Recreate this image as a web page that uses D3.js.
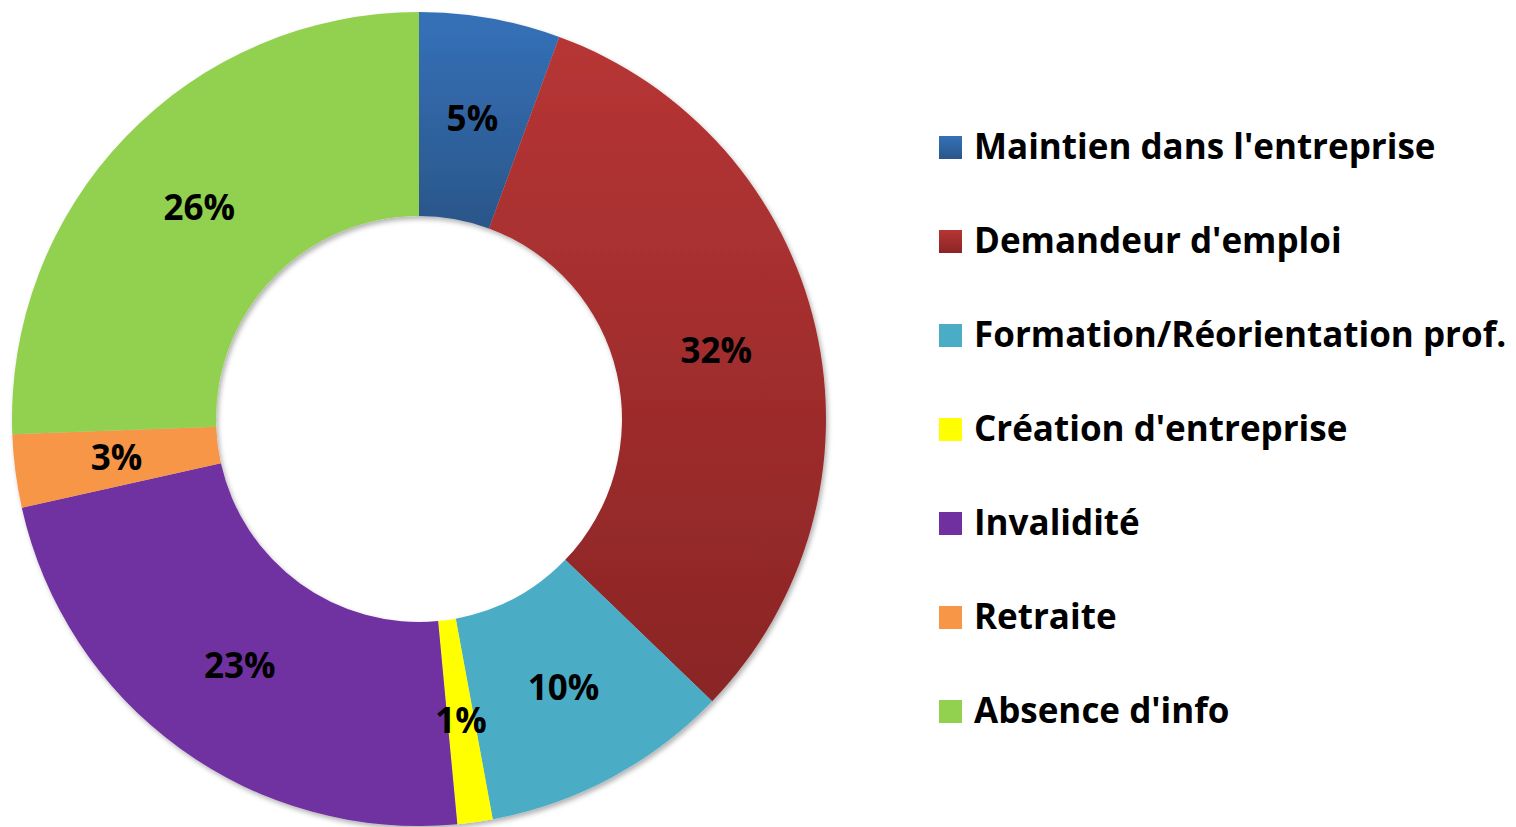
<!DOCTYPE html>
<html>
<head>
<meta charset="utf-8">
<script src="https://cdn.jsdelivr.net/npm/d3@7"></script>
<style>
  body { margin: 0; background: #fff; }
  text { font-family: "Open Sans", Lato, sans-serif; font-weight: 700; font-variant-ligatures: none; }
</style>
</head>
<body>
<div id="chart"></div>
<script>
// categories, values, labels as printed
var categories = ["Maintien dans l'entreprise", "Demandeur d'emploi", "Formation/Réorientation prof.",
    "Création d'entreprise", "Invalidité", "Retraite", "Absence d'info"];
var values = [5.6, 31.6, 9.9, 1.4, 23.0, 2.9, 25.6];
var labels = ["5%", "32%", "10%", "1%", "23%", "3%", "26%"];
var colorsTop = ["#3571B9", "#B73535", "#4BACC6", "#FFFF00", "#7030A0", "#F79646", "#92D050"];
var colorsBottom = ["#2A5689", "#8A2525", "#4BACC6", "#FFFF00", "#7030A0", "#F79646", "#92D050"];

var width = 1516, height = 827;
var cx = 419, cy = 419, outerR = 407, innerR = 203;

var svg = d3.select("#chart").append("svg")
    .attr("width", width)
    .attr("height", height);

var defs = svg.append("defs");
categories.forEach(function(c, i){
    var g = defs.append("linearGradient")
        .attr("id", "grad" + i)
        .attr("x1", 0).attr("y1", 0).attr("x2", 0).attr("y2", 1);
    g.append("stop").attr("offset", "0%").attr("stop-color", colorsTop[i]);
    g.append("stop").attr("offset", "100%").attr("stop-color", colorsBottom[i]);
});
defs.append("filter").attr("id", "shadow")
    .attr("x", "-10%").attr("y", "-10%").attr("width", "120%").attr("height", "120%")
    .append("feDropShadow")
    .attr("dx", 2).attr("dy", 3).attr("stdDeviation", 2.5)
    .attr("flood-color", "#000").attr("flood-opacity", 0.3);

var data = categories.map(function(c, i){
    return {name: c, value: values[i], label: labels[i], idx: i};
});

var pie = d3.pie().sort(null).value(function(d){ return d.value; });
var arc = d3.arc().innerRadius(innerR).outerRadius(outerR);

var chart = svg.append("g").attr("transform", "translate(" + cx + "," + cy + ")");

chart.append("g").attr("filter", "url(#shadow)")
    .selectAll("path")
    .data(pie(data))
    .enter().append("path")
    .attr("d", arc)
    .attr("fill", function(d){ return "url(#grad" + d.data.idx + ")"; });

chart.selectAll("text.lbl")
    .data(pie(data))
    .enter().append("text")
    .attr("class", "lbl")
    .attr("transform", function(d){ return "translate(" + arc.centroid(d) + ")"; })
    .attr("text-anchor", "middle")
    .attr("dy", "0.35em")
    .style("font-size", "35px")
    .attr("fill", "#000")
    .text(function(d){ return d.data.label; });

// legend
var legendY = d3.scalePoint().domain(categories).range([147, 711]);
var legend = svg.append("g").selectAll("g")
    .data(data)
    .enter().append("g")
    .attr("transform", function(d){ return "translate(939," + legendY(d.name) + ")"; });

legend.append("rect")
    .attr("x", 0).attr("y", -11)
    .attr("width", 23).attr("height", 23)
    .attr("fill", function(d){ return "url(#grad" + d.idx + ")"; });

legend.append("text")
    .attr("x", 35)
    .attr("dy", "0.35em")
    .style("font-size", "35px")
    .attr("fill", "#000")
    .text(function(d){ return d.name; });
</script>
</body>
</html>
